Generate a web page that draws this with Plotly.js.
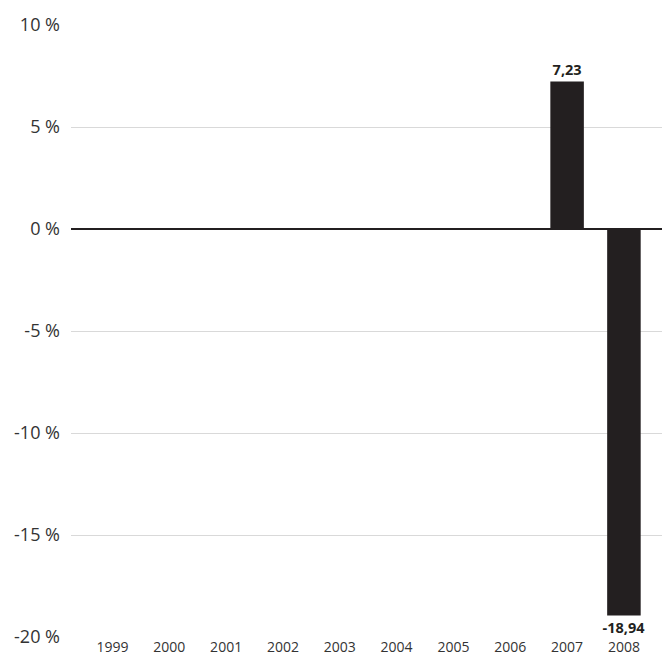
<!DOCTYPE html>
<html>
<head>
<meta charset="utf-8">
<script src="https://cdn.plot.ly/plotly-3.0.1.min.js"></script>
<style>
  html, body { margin: 0; padding: 0; background: #fff; }
  #chart { width: 662px; height: 659px; }
</style>
</head>
<body>
<div id="chart"></div>
<script>
// Annual return per year (percent); years without a value are left empty
const years = ['1999', '2000', '2001', '2002', '2003', '2004', '2005', '2006', '2007', '2008'];
const returns = [null, null, null, null, null, null, null, null, 7.23, -18.94];

// Y axis ticks
const yTickValues = [10, 5, 0, -5, -10, -15, -20];
const yTickLabels = ['10 %', '5 %', '0 %', '-5 %', '-10 %', '-15 %', '-20 %'];

const barLabels = returns.map(v => v == null ? '' : v.toFixed(2).replace('.', ','));

const trace = {
  type: 'bar',
  x: years,
  y: returns,
  width: 0.59,
  marker: { color: '#231f20' },
  text: barLabels,
  textposition: 'outside',
  constraintext: 'none',
  cliponaxis: false,
  textfont: { family: 'Open Sans, sans-serif', size: 14.5, color: '#231f20', weight: 'bold' },
  hoverinfo: 'x+y'
};

const layout = {
  width: 662,
  height: 659,
  margin: { l: 71, r: 0, t: 25, b: 22 },
  paper_bgcolor: '#ffffff',
  plot_bgcolor: '#ffffff',
  showlegend: false,
  font: { family: 'Open Sans, sans-serif', color: '#333333' },
  xaxis: {
    type: 'category',
    range: [-0.73, 9.67],
    showgrid: false,
    zeroline: false,
    showline: false,
    ticks: '',
    tickfont: { size: 14, color: '#333333' },
    ticklabelstandoff: 0
  },
  yaxis: {
    range: [-20, 10],
    tickvals: yTickValues,
    ticktext: yTickLabels,
    showgrid: true,
    gridcolor: '#d9d9d9',
    gridwidth: 1,
    zeroline: true,
    zerolinecolor: '#231f20',
    zerolinewidth: 1.5,
    showline: false,
    ticks: '',
    tickfont: { size: 18, color: '#333333' },
    ticklabelstandoff: 10
  }
};

Plotly.newPlot('chart', [trace], layout, { displayModeBar: false, staticPlot: true });
</script>
</body>
</html>
